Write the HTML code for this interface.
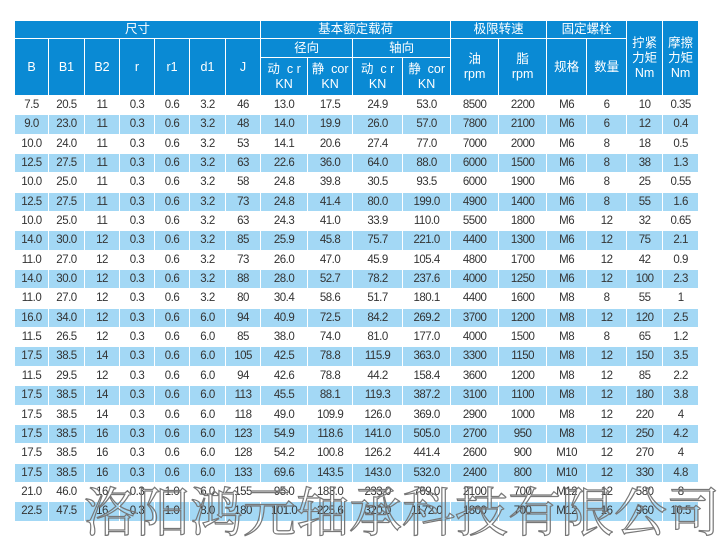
<!DOCTYPE html>
<html><head><meta charset="utf-8"><style>
body{margin:0;width:718px;height:524px;background:#fff;overflow:hidden;position:relative;font-family:"Liberation Sans","Noto Sans CJK SC",sans-serif}
table{position:absolute;left:14px;top:20px;border-collapse:collapse;table-layout:fixed;width:684px}
td{padding:0;text-align:center;border:1px solid #fff;font-size:11.5px;color:#333;letter-spacing:-0.5px;white-space:nowrap;overflow:hidden}
thead td{background:#0a8ad4;color:#fff;font-size:12.5px;line-height:15px;letter-spacing:0}
tbody td{line-height:18.35px}
tbody tr:nth-child(even) td{background:#a3d8f5}
.wm{position:absolute;left:84px;top:484px;font-family:"Liberation Serif","Noto Serif CJK SC",serif;font-size:53px;color:transparent;-webkit-text-stroke:1.2px #777;white-space:nowrap;line-height:60px}
</style></head><body>
<table>
<colgroup><col style="width:34px"><col style="width:36px"><col style="width:35px"><col style="width:35px"><col style="width:35px"><col style="width:36px"><col style="width:35px"><col style="width:47px"><col style="width:45px"><col style="width:50px"><col style="width:48px"><col style="width:48px"><col style="width:48px"><col style="width:40px"><col style="width:40px"><col style="width:36px"><col style="width:36px"></colgroup>
<thead>
<tr style="height:18px"><td colspan="7">尺寸</td><td colspan="4">基本额定载荷</td><td colspan="2">极限转速</td><td colspan="2">固定螺栓</td><td rowspan="3">拧紧<br>力矩<br>Nm</td><td rowspan="3">摩擦<br>力矩<br>Nm</td></tr>
<tr style="height:19px"><td rowspan="2">B</td><td rowspan="2">B1</td><td rowspan="2">B2</td><td rowspan="2">r</td><td rowspan="2">r1</td><td rowspan="2">d1</td><td rowspan="2">J</td><td colspan="2">径向</td><td colspan="2">轴向</td><td rowspan="2">油<br>rpm</td><td rowspan="2">脂<br>rpm</td><td rowspan="2">规格</td><td rowspan="2">数量</td></tr>
<tr style="height:38px"><td>动 &nbsp;c r<br>KN</td><td>静 &nbsp;cor<br>KN</td><td>动 &nbsp;c r<br>KN</td><td>静 &nbsp;cor<br>KN</td></tr>
</thead>
<tbody>
<tr><td>7.5</td><td>20.5</td><td>11</td><td>0.3</td><td>0.6</td><td>3.2</td><td>46</td><td>13.0</td><td>17.5</td><td>24.9</td><td>53.0</td><td>8500</td><td>2200</td><td>M6</td><td>6</td><td>10</td><td>0.35</td></tr>
<tr><td>9.0</td><td>23.0</td><td>11</td><td>0.3</td><td>0.6</td><td>3.2</td><td>48</td><td>14.0</td><td>19.9</td><td>26.0</td><td>57.0</td><td>7800</td><td>2100</td><td>M6</td><td>6</td><td>12</td><td>0.4</td></tr>
<tr><td>10.0</td><td>24.0</td><td>11</td><td>0.3</td><td>0.6</td><td>3.2</td><td>53</td><td>14.1</td><td>20.6</td><td>27.4</td><td>77.0</td><td>7000</td><td>2000</td><td>M6</td><td>8</td><td>18</td><td>0.5</td></tr>
<tr><td>12.5</td><td>27.5</td><td>11</td><td>0.3</td><td>0.6</td><td>3.2</td><td>63</td><td>22.6</td><td>36.0</td><td>64.0</td><td>88.0</td><td>6000</td><td>1500</td><td>M6</td><td>8</td><td>38</td><td>1.3</td></tr>
<tr><td>10.0</td><td>25.0</td><td>11</td><td>0.3</td><td>0.6</td><td>3.2</td><td>58</td><td>24.8</td><td>39.8</td><td>30.5</td><td>93.5</td><td>6000</td><td>1900</td><td>M6</td><td>8</td><td>25</td><td>0.55</td></tr>
<tr><td>12.5</td><td>27.5</td><td>11</td><td>0.3</td><td>0.6</td><td>3.2</td><td>73</td><td>24.8</td><td>41.4</td><td>80.0</td><td>199.0</td><td>4900</td><td>1400</td><td>M6</td><td>8</td><td>55</td><td>1.6</td></tr>
<tr><td>10.0</td><td>25.0</td><td>11</td><td>0.3</td><td>0.6</td><td>3.2</td><td>63</td><td>24.3</td><td>41.0</td><td>33.9</td><td>110.0</td><td>5500</td><td>1800</td><td>M6</td><td>12</td><td>32</td><td>0.65</td></tr>
<tr><td>14.0</td><td>30.0</td><td>12</td><td>0.3</td><td>0.6</td><td>3.2</td><td>85</td><td>25.9</td><td>45.8</td><td>75.7</td><td>221.0</td><td>4400</td><td>1300</td><td>M6</td><td>12</td><td>75</td><td>2.1</td></tr>
<tr><td>11.0</td><td>27.0</td><td>12</td><td>0.3</td><td>0.6</td><td>3.2</td><td>73</td><td>26.0</td><td>47.0</td><td>45.9</td><td>105.4</td><td>4800</td><td>1700</td><td>M6</td><td>12</td><td>42</td><td>0.9</td></tr>
<tr><td>14.0</td><td>30.0</td><td>12</td><td>0.3</td><td>0.6</td><td>3.2</td><td>88</td><td>28.0</td><td>52.7</td><td>78.2</td><td>237.6</td><td>4000</td><td>1250</td><td>M6</td><td>12</td><td>100</td><td>2.3</td></tr>
<tr><td>11.0</td><td>27.0</td><td>12</td><td>0.3</td><td>0.6</td><td>3.2</td><td>80</td><td>30.4</td><td>58.6</td><td>51.7</td><td>180.1</td><td>4400</td><td>1600</td><td>M8</td><td>8</td><td>55</td><td>1</td></tr>
<tr><td>16.0</td><td>34.0</td><td>12</td><td>0.3</td><td>0.6</td><td>6.0</td><td>94</td><td>40.9</td><td>72.5</td><td>84.2</td><td>269.2</td><td>3700</td><td>1200</td><td>M8</td><td>12</td><td>120</td><td>2.5</td></tr>
<tr><td>11.5</td><td>26.5</td><td>12</td><td>0.3</td><td>0.6</td><td>6.0</td><td>85</td><td>38.0</td><td>74.0</td><td>81.0</td><td>177.0</td><td>4000</td><td>1500</td><td>M8</td><td>8</td><td>65</td><td>1.2</td></tr>
<tr><td>17.5</td><td>38.5</td><td>14</td><td>0.3</td><td>0.6</td><td>6.0</td><td>105</td><td>42.5</td><td>78.8</td><td>115.9</td><td>363.0</td><td>3300</td><td>1150</td><td>M8</td><td>12</td><td>150</td><td>3.5</td></tr>
<tr><td>11.5</td><td>29.5</td><td>12</td><td>0.3</td><td>0.6</td><td>6.0</td><td>94</td><td>42.6</td><td>78.8</td><td>44.2</td><td>158.4</td><td>3600</td><td>1200</td><td>M8</td><td>12</td><td>85</td><td>2.2</td></tr>
<tr><td>17.5</td><td>38.5</td><td>14</td><td>0.3</td><td>0.6</td><td>6.0</td><td>113</td><td>45.5</td><td>88.1</td><td>119.3</td><td>387.2</td><td>3100</td><td>1100</td><td>M8</td><td>12</td><td>180</td><td>3.8</td></tr>
<tr><td>17.5</td><td>38.5</td><td>14</td><td>0.3</td><td>0.6</td><td>6.0</td><td>118</td><td>49.0</td><td>109.9</td><td>126.0</td><td>369.0</td><td>2900</td><td>1000</td><td>M8</td><td>12</td><td>220</td><td>4</td></tr>
<tr><td>17.5</td><td>38.5</td><td>16</td><td>0.3</td><td>0.6</td><td>6.0</td><td>123</td><td>54.9</td><td>118.6</td><td>141.0</td><td>505.0</td><td>2700</td><td>950</td><td>M8</td><td>12</td><td>250</td><td>4.2</td></tr>
<tr><td>17.5</td><td>38.5</td><td>16</td><td>0.3</td><td>0.6</td><td>6.0</td><td>128</td><td>54.2</td><td>100.8</td><td>126.2</td><td>441.4</td><td>2600</td><td>900</td><td>M10</td><td>12</td><td>270</td><td>4</td></tr>
<tr><td>17.5</td><td>38.5</td><td>16</td><td>0.3</td><td>0.6</td><td>6.0</td><td>133</td><td>69.6</td><td>143.5</td><td>143.0</td><td>532.0</td><td>2400</td><td>800</td><td>M10</td><td>12</td><td>330</td><td>4.8</td></tr>
<tr><td>21.0</td><td>46.0</td><td>16</td><td>0.3</td><td>1.0</td><td>6.0</td><td>155</td><td>95.0</td><td>183.0</td><td>233.0</td><td>769.0</td><td>2100</td><td>700</td><td>M12</td><td>12</td><td>580</td><td>8</td></tr>
<tr><td>22.5</td><td>47.5</td><td>16</td><td>0.3</td><td>1.0</td><td>8.0</td><td>180</td><td>101.0</td><td>225.6</td><td>320.0</td><td>1172.0</td><td>1800</td><td>700</td><td>M12</td><td>16</td><td>960</td><td>10.5</td></tr>
</tbody>
</table>
<div class="wm">洛阳鸿元轴承科技有限公司</div>
</body></html>
